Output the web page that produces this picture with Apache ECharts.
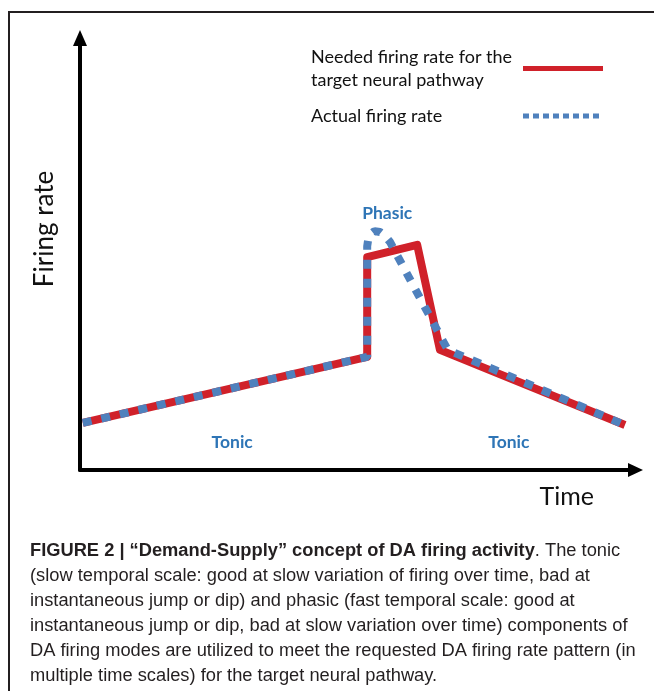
<!DOCTYPE html>
<html>
<head>
<meta charset="utf-8">
<script src="https://cdn.jsdelivr.net/npm/echarts@6/dist/echarts.min.js"></script>
<style>
html,body{margin:0;padding:0;background:#fff;}
#chart{width:654px;height:691px;}
</style>
</head>
<body>
<div id="chart"></div>
<script>
// Series values (arbitrary units: time 0-100, firing rate 0-100)
const neededName = 'Needed firing rate for the\ntarget neural pathway';
const neededX = [0.5, 51.7, 51.7, 60.7, 64.8, 98.1];
const neededY = [10.9, 26.2, 49.3, 52.1, 27.8, 10.4];

const actualName = 'Actual firing rate';
const actualX = [0.5, 51.7, 51.7, 51.9, 52.3, 53.0, 54.0, 54.9, 55.8, 66.2, 98.1];
const actualY = [10.9, 26.2, 51.8, 53.5, 54.6, 55.3, 55.1, 54.2, 52.8, 27.8, 10.4];

// Annotation labels
const labelNames = ['Phasic', 'Tonic', 'Tonic'];
const labelX = [55.3, 27.4, 77.2];
const labelY = [59.3, 6.5, 6.5];

const yAxisName = 'Firing rate';
const xAxisName = 'Time';

const captionLines = [
  '{b|FIGURE 2 | \u201cDemand-Supply\u201d concept of DA firing activity}{n|. The tonic}',
  '{n|(slow temporal scale: good at slow variation of firing over time, bad at}',
  '{n|instantaneous jump or dip) and phasic (fast temporal scale: good at}',
  '{n|instantaneous jump or dip, bad at slow variation over time) components of}',
  '{n|DA firing modes are utilized to meet the requested DA firing rate pattern (in}',
  '{n|multiple time scales) for the target neural pathway.}'
];

const RED = '#d0212a';
const BLUE = '#4f81bd';
const LABEL_BLUE = '#2e75b6';
const FONT = 'Lato, "Open Sans", sans-serif';
const CAP_FONT = '"Liberation Sans", Arial, sans-serif';

const pairs = (xs, ys) => xs.map((x, i) => [x, ys[i]]);

const chart = echarts.init(document.getElementById('chart'));
chart.setOption({
  animation: false,
  backgroundColor: '#fff',
  graphic: [{
    type: 'rect', silent: true,
    shape: { x: 9, y: 12, width: 800, height: 800 },
    style: { fill: 'none', stroke: '#231f20', lineWidth: 2 }
  }],
  title: {
    left: 30, top: 538, padding: 0,
    text: captionLines.join('\n'),
    textStyle: {
      lineHeight: 25, fontWeight: 'normal',
      rich: {
        b: { fontFamily: CAP_FONT, fontSize: 18.3, fontWeight: 'bold', color: '#231f20', lineHeight: 25 },
        n: { fontFamily: CAP_FONT, fontSize: 18.3, fontWeight: 'normal', color: '#231f20', lineHeight: 25 }
      }
    }
  },
  legend: {
    orient: 'vertical', align: 'right',
    left: 311, top: 48, padding: 0, itemGap: 18,
    itemWidth: 80, itemHeight: 14,
    formatter: name => name.split('\n').map(s => '{t|' + s + '}').join('\n'),
    textStyle: {
      rich: { t: { fontFamily: FONT, fontSize: 18, color: '#111', lineHeight: 23, align: 'left', width: 207 } }
    },
    data: [
      { name: neededName, itemStyle: { opacity: 0 }, lineStyle: { color: RED, width: 5, type: 'solid' } },
      { name: actualName, itemStyle: { opacity: 0 }, lineStyle: { color: BLUE, width: 5, type: [6, 4] } }
    ]
  },
  grid: { left: 80, right: 18.5, top: 38, bottom: 221, containLabel: false },
  xAxis: {
    type: 'value', min: 0, max: 100,
    axisLine: { show: true, symbol: ['none', 'triangle'], symbolSize: [14, 15], lineStyle: { color: '#000', width: 4 } },
    axisTick: { show: false }, axisLabel: { show: false }, splitLine: { show: false },
    name: xAxisName, nameLocation: 'end', nameGap: -96,
    nameTextStyle: { fontFamily: FONT, fontSize: 25, color: '#111', verticalAlign: 'top', padding: [14, 0, 0, 0] }
  },
  yAxis: {
    type: 'value', min: 0, max: 100,
    axisLine: { show: true, symbol: ['none', 'triangle'], symbolSize: [14, 16], lineStyle: { color: '#000', width: 4 } },
    axisTick: { show: false }, axisLabel: { show: false }, splitLine: { show: false },
    name: yAxisName, nameLocation: 'middle', nameRotate: 90, nameGap: 22,
    nameTextStyle: { fontFamily: FONT, fontSize: 26, color: '#111', padding: [0, 0, 0, 50] }
  },
  series: [
    {
      name: neededName, type: 'line', data: pairs(neededX, neededY),
      symbol: 'none', z: 2,
      lineStyle: { color: RED, width: 8, join: 'round' }
    },
    {
      name: actualName, type: 'line', data: pairs(actualX, actualY),
      symbol: 'none', z: 3,
      lineStyle: { color: BLUE, width: 8, type: [9, 10], cap: 'butt' }
    },
    {
      name: 'labels', type: 'scatter', symbolSize: 1,
      itemStyle: { color: 'rgba(0,0,0,0)', opacity: 1 },
      data: labelNames.map((n, i) => [labelX[i], labelY[i], n]),
      label: {
        show: true, position: 'inside',
        formatter: p => p.value[2],
        fontFamily: FONT, fontWeight: 'bold', fontSize: 17.5, color: LABEL_BLUE
      },
      z: 4
    }
  ]
});
</script>
</body>
</html>
